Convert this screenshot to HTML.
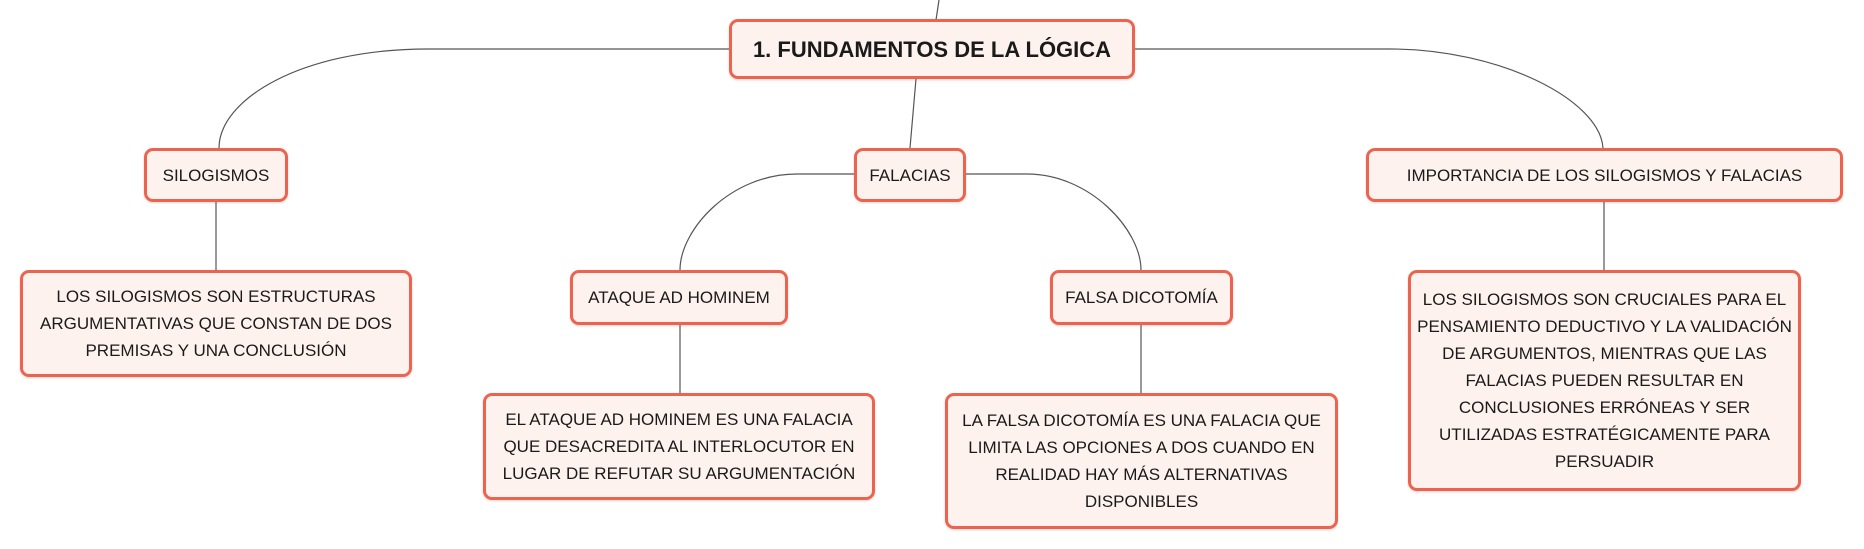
<!DOCTYPE html>
<html><head><meta charset="utf-8">
<style>
html,body{margin:0;padding:0;background:#fff;}
body{width:1864px;height:549px;position:relative;overflow:hidden;font-family:"Liberation Sans",sans-serif;}
.n{position:absolute;box-sizing:border-box;border:3px solid #ec6450;border-radius:9px;background:#fdf2ee;display:flex;align-items:center;justify-content:center;text-align:center;color:#1a1a1a;font-size:17px;line-height:27px;box-shadow:0 1px 2px rgba(200,80,60,0.25);}
svg{position:absolute;left:0;top:0;}
</style></head><body>
<svg width="1864" height="549" fill="none" stroke="#555" stroke-width="1.2">
<path d="M939,0 L936,20"/>
<path d="M916,79 L910,148"/>
<path d="M730,49 H428 C300,49 219,100 219,148"/>
<path d="M1134,49 H1390 C1500,49 1600,100 1603,148"/>
<path d="M854,174 H797 C730,174 680,230 680,270"/>
<path d="M966,174 H1027 C1090,174 1141,230 1141,270"/>
<path d="M216,202 V270"/>
<path d="M680,325 V393"/>
<path d="M1141,325 V393"/>
<path d="M1604,202 V270"/>
</svg>
<div class="n" style="left:729px;top:19px;width:406px;height:60px;font-weight:bold;font-size:22px;">1. FUNDAMENTOS DE LA LÓGICA</div>
<div class="n" style="left:144px;top:148px;width:144px;height:54px;">SILOGISMOS</div>
<div class="n" style="left:854px;top:148px;width:112px;height:54px;">FALACIAS</div>
<div class="n" style="left:1366px;top:148px;width:477px;height:54px;">IMPORTANCIA DE LOS SILOGISMOS Y FALACIAS</div>
<div class="n" style="left:20px;top:270px;width:392px;height:107px;padding:0 6px;">LOS SILOGISMOS SON ESTRUCTURAS ARGUMENTATIVAS QUE CONSTAN DE DOS PREMISAS Y UNA CONCLUSIÓN</div>
<div class="n" style="left:570px;top:270px;width:218px;height:55px;">ATAQUE AD HOMINEM</div>
<div class="n" style="left:1050px;top:270px;width:183px;height:55px;">FALSA DICOTOMÍA</div>
<div class="n" style="left:483px;top:393px;width:392px;height:107px;padding:0 6px;">EL ATAQUE AD HOMINEM ES UNA FALACIA QUE DESACREDITA AL INTERLOCUTOR EN LUGAR DE REFUTAR SU ARGUMENTACIÓN</div>
<div class="n" style="left:945px;top:393px;width:393px;height:136px;padding:0 6px;">LA FALSA DICOTOMÍA ES UNA FALACIA QUE LIMITA LAS OPCIONES A DOS CUANDO EN REALIDAD HAY MÁS ALTERNATIVAS DISPONIBLES</div>
<div class="n" style="left:1408px;top:270px;width:393px;height:221px;padding:0 4px;">LOS SILOGISMOS SON CRUCIALES PARA EL PENSAMIENTO DEDUCTIVO Y LA VALIDACIÓN DE ARGUMENTOS, MIENTRAS QUE LAS FALACIAS PUEDEN RESULTAR EN CONCLUSIONES ERRÓNEAS Y SER UTILIZADAS ESTRATÉGICAMENTE PARA PERSUADIR</div>
</body></html>
